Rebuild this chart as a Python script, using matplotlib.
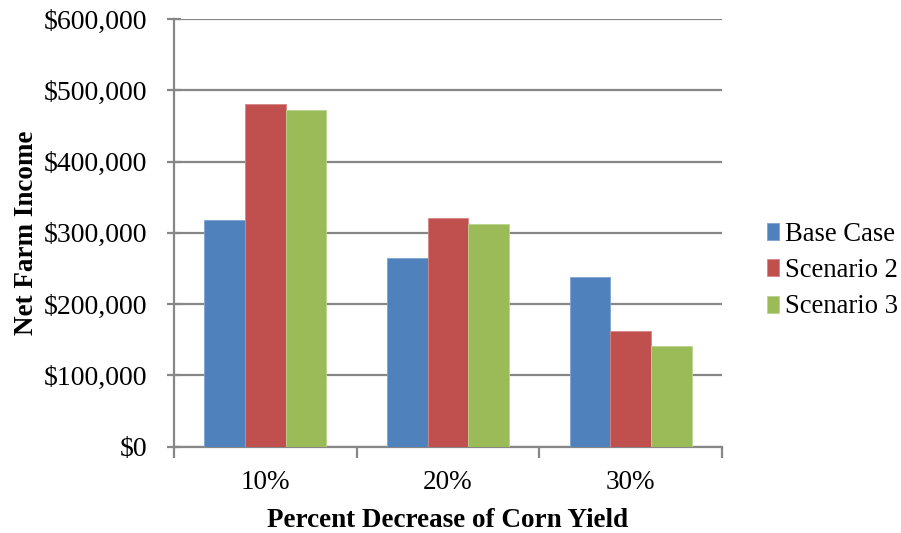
import matplotlib
matplotlib.use("Agg")
import matplotlib.pyplot as plt
import numpy as np
from matplotlib.ticker import FuncFormatter, FixedLocator

categories = ["10%", "20%", "30%"]
series_names = ["Base Case", "Scenario 2", "Scenario 3"]
base_case = [318000, 265000, 238000]
scenario_2 = [481000, 321000, 162000]
scenario_3 = [472000, 312000, 141000]
y_ticks = [0, 100000, 200000, 300000, 400000, 500000, 600000]

colors = ["#4F81BD", "#C0504D", "#9BBB59"]
edge_colors = ["#7FA3D1", "#D88684", "#BCD38F"]
grid_gray = "#878787"

plt.rcParams["font.family"] = ["Liberation Serif", "DejaVu Serif"]

fig = plt.figure(figsize=(9.01, 5.33), dpi=100)
ax = fig.add_axes([174 / 901, 1 - 446.5 / 533, (722 - 174) / 901, (446.5 - 19) / 533])

x = np.arange(len(categories))
bar_w = 1 / 4.5
for i, (name, vals) in enumerate(zip(series_names, [base_case, scenario_2, scenario_3])):
    ax.bar(x + (i - 1) * bar_w, vals, width=bar_w, color=colors[i],
           edgecolor=edge_colors[i], linewidth=0.6, label=name, zorder=3)

ax.set_xlim(-0.5, len(categories) - 0.5)
ax.set_ylim(0, 600000)
ax.yaxis.set_major_locator(FixedLocator(y_ticks))
ax.yaxis.set_major_formatter(FuncFormatter(lambda v, p: f"${v:,.0f}"))
ax.grid(axis="y", color=grid_gray, linewidth=1.6, zorder=0)
ax.set_axisbelow(True)

# category labels at centres, tick marks at category boundaries
ax.set_xticks(x)
ax.set_xticklabels(categories)
ax.tick_params(axis="x", which="major", length=0, pad=17, labelsize=19.5)
ax.set_xticks(np.arange(-0.5, len(categories), 1.0), minor=True)
ax.tick_params(axis="x", which="minor", length=8, width=1.6, color=grid_gray, direction="out")
ax.tick_params(axis="y", which="major", length=10, width=1.6, color=grid_gray,
               direction="inout", pad=14, labelsize=20)

for side in ["top", "right"]:
    ax.spines[side].set_visible(False)
for side in ["left", "bottom"]:
    ax.spines[side].set_color(grid_gray)
    ax.spines[side].set_linewidth(1.6)

ax.set_xlabel("Percent Decrease of Corn Yield", fontsize=19.5, fontweight="bold", labelpad=9)
ax.set_ylabel("Net Farm Income", fontsize=19.5, fontweight="bold", labelpad=4)

leg = ax.legend(loc="center left", bbox_to_anchor=(1.062, 0.411), frameon=False,
                fontsize=19.2, handlelength=0.45, handleheight=0.6, handletextpad=0.22,
                labelspacing=0.42, borderaxespad=0)

fig.savefig("out.png", dpi=100)
